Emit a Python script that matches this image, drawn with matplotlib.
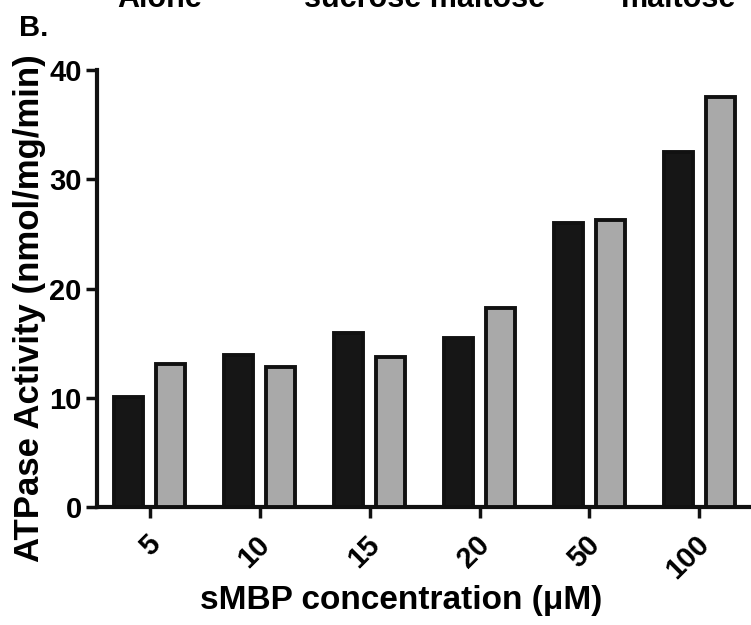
import numpy as np
import matplotlib.pyplot as plt
import matplotlib.transforms as mtransforms

# data
conc = ['5', '10', '15', '20', '50', '100']
black_vals = [10.1, 13.9, 15.9, 15.5, 26.0, 32.5]
gray_vals = [13.1, 12.8, 13.7, 18.2, 26.3, 37.5]
yticks = [0, 10, 20, 30, 40]

plt.rcParams['font.family'] = ['Liberation Sans', 'DejaVu Sans']
plt.rcParams['font.weight'] = 'bold'

fig = plt.figure(figsize=(7.51, 6.25), dpi=100)
ax = fig.add_axes([97 / 751, 118 / 625, 654 / 751, 437 / 625])

x = np.arange(len(conc))
w = 0.265
ax.bar(x - 0.19, black_vals, w, color='#161616', edgecolor='#111111', linewidth=2.8, zorder=3)
ax.bar(x + 0.19, gray_vals, w, color='#a9a9a9', edgecolor='#111111', linewidth=2.8, zorder=3)

ax.set_xlim(-0.48, 5.47)
ax.set_ylim(0, 40)
ax.set_yticks(yticks)
ax.set_xticks(x)
ax.set_xticklabels(conc, rotation=45, ha='right', va='center', rotation_mode='anchor')

# spines
for s in ['top', 'right']:
    ax.spines[s].set_visible(False)
for s in ['left', 'bottom']:
    ax.spines[s].set_linewidth(3)
    ax.spines[s].set_color('#111111')

ax.tick_params(axis='both', direction='out', length=8, width=2.5, color='#111111',
               labelsize=21, pad=3)
ax.tick_params(axis='x', pad=16)

# nudge the rotated x labels a little to the right, like the original
shift = mtransforms.ScaledTranslation(6 / 100, 0, fig.dpi_scale_trans)
for lab in ax.get_xticklabels():
    lab.set_transform(lab.get_transform() + shift)

# axis labels
ax.set_ylabel('ATPase Activity (nmol/mg/min)', fontsize=25, fontweight='bold')
ax.yaxis.set_label_coords(-0.078, 0.455)
ax.set_xlabel('sMBP concentration (\u03bcM)', fontsize=24, fontweight='bold')
ax.xaxis.set_label_coords(0.465, -0.178)

# panel letter and cut-off labels from the panel above
fig.text(19 / 751, 1 - 36 / 625, 'B.', fontsize=21, fontweight='bold', ha='left', va='baseline')
fig.text(160 / 751, 1 - 7 / 625, 'Alone', fontsize=22, fontweight='bold', ha='center', va='baseline')
fig.text(425 / 751, 1 - 7 / 625, 'sucrose maltose', fontsize=22, fontweight='bold', ha='center', va='baseline')
fig.text(679 / 751, 1 - 7 / 625, 'maltose', fontsize=22, fontweight='bold', ha='center', va='baseline')

fig.savefig('out.png', dpi=100)
